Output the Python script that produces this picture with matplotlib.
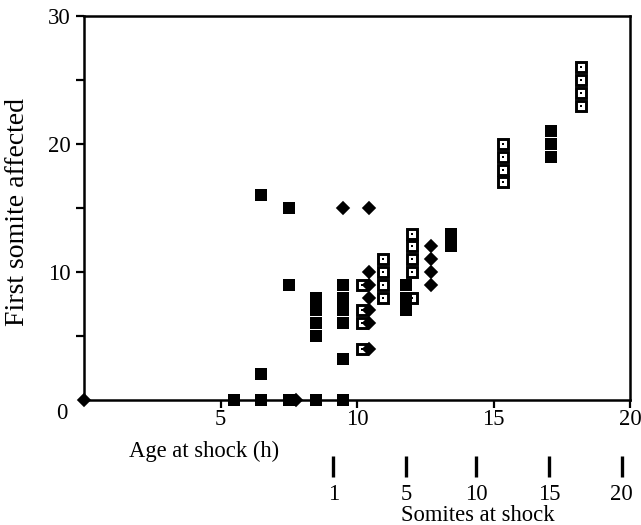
import numpy as np
import matplotlib
matplotlib.use('Agg')
import matplotlib.pyplot as plt

plt.rcParams['font.family'] = ['Liberation Serif', 'DejaVu Serif']
plt.rcParams['font.size'] = 16.3

# filled squares
sq_x = [6.5, 7.5, 7.5, 6.5, 8.5, 8.5, 8.5, 8.5, 9.5, 9.5, 9.5, 9.5, 9.5,
        5.5, 6.5, 7.5, 8.5, 9.5, 11.8, 11.8, 11.8, 13.45, 13.45, 17.1, 17.1, 17.1]
sq_y = [16, 15, 9, 2, 5, 6, 7, 8, 6, 7, 8, 9, 3.2,
        0, 0, 0, 0, 0, 7, 8, 9, 12, 13, 19, 20, 21]

# filled diamonds
dm_x = [0, 7.75, 9.5, 10.45, 10.45, 10.45, 10.45, 10.45, 10.45, 10.45,
        12.7, 12.7, 12.7, 12.7]
dm_y = [0, 0, 15, 15, 10, 9, 8, 7, 6, 4, 12, 11, 10, 9]

# open squares with a dot
op_x = [10.2, 10.2, 10.2, 10.2, 10.95, 10.95, 10.95, 10.95,
        12.0, 12.0, 12.0, 12.0, 12.0, 15.35, 15.35, 15.35, 15.35,
        18.2, 18.2, 18.2, 18.2]
op_y = [9, 7, 6, 4, 8, 9, 10, 11, 8, 10, 11, 12, 13, 17, 18, 19, 20,
        23, 24, 25, 26]

# somite scale (position on the age axis)
somite_age = [9.13, 11.79, 14.36, 17.04, 19.70]
somite_lbl = ['1', '5', '10', '15', '20']

fig = plt.figure(figsize=(6.41, 5.25), dpi=100)
ax = fig.add_axes([84/641., 1 - 400/525., 546/641., 384/525.])

ax.plot(op_x, op_y, 's', ms=6.6, mfc='white', mec='black', mew=2.1, clip_on=False, zorder=3)
ax.plot(op_x, op_y, 's', ms=1.6, color='black', mew=0, clip_on=False, zorder=3)
ax.plot(sq_x, sq_y, 's', ms=8.9, color='black', mew=0, clip_on=False, zorder=4)
ax.plot(dm_x, dm_y, 'D', ms=6.2, color='black', mew=1.2, mec='black',
        mfc='black', clip_on=False, zorder=5)

ax.set_xlim(0, 20)
ax.set_ylim(0, 30)
ax.set_xticks([5, 10, 15, 20])
ax.set_xticklabels(['5', '10', '15', '20'])
ax.set_yticks([5, 10, 15, 20, 25, 30])
ax.set_yticklabels(['', '10', '', '20', '', '30'])
for s in ax.spines.values():
    s.set_linewidth(1.8)
ax.tick_params(direction='out', length=5.8, width=1.6, pad=4)
ax.tick_params(axis='x', pad=1)

ax.text(-0.04, -0.035, '0', transform=ax.transAxes, ha='center', va='center')
ax.text(0.22, -0.133, 'Age at shock (h)', transform=ax.transAxes, ha='center', va='center')
ax.text(-0.121, 0.49, 'First somite affected', transform=ax.transAxes,
        rotation=90, ha='center', va='center', fontsize=20)

# second scale: somites at shock
ax2 = fig.add_axes([84/641., 1 - 456/525., 546/641., 0.0001])
ax2.set_xlim(0, 20)
for s in ax2.spines.values():
    s.set_visible(False)
ax2.set_yticks([])
ax2.set_xticks(somite_age)
ax2.set_xticklabels(somite_lbl)
ax2.tick_params(axis='x', direction='out', length=15, width=2.4, pad=5)
ax2.patch.set_visible(False)
ax.text(0.7216, -0.302, 'Somites at shock', transform=ax.transAxes, ha='center', va='center')

fig.savefig('out.png', dpi=100)
